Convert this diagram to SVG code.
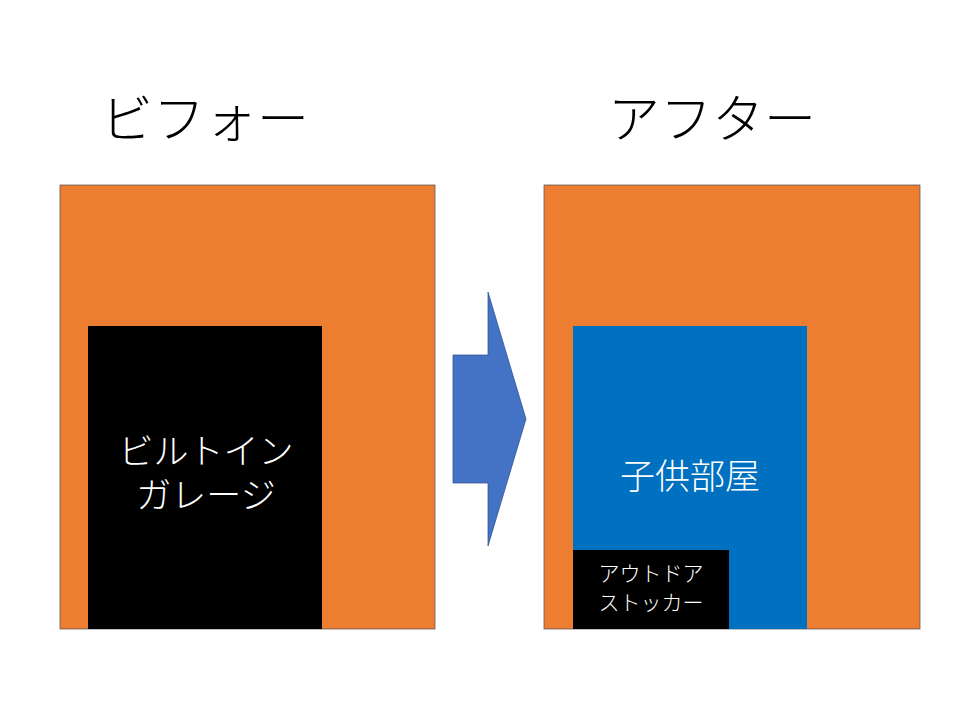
<svg xmlns="http://www.w3.org/2000/svg" width="960" height="720" viewBox="0 0 960 720">
<style>
.t{font-family:"Noto Sans CJK JP","Noto Sans CJK SC",sans-serif;text-anchor:middle;font-weight:300}
.h{font-size:52px;fill:#000}
.w{fill:#fff;font-size:35px}
.s{fill:#fff;font-size:21px}
</style>
<rect width="960" height="720" fill="#fff"/>
<text class="t h" x="205" y="138">ビフォー</text>
<text class="t h" x="712" y="138">アフター</text>
<g id="before">
<rect x="60" y="185" width="375" height="444" fill="#ed7d31" stroke="#555" stroke-width="0.75"/>
<g id="garage"><rect x="88" y="326" width="234" height="303" fill="#000"/>
<text class="t w" x="206" y="464">ビルトイン</text>
<text class="t w" x="206" y="508">ガレージ</text></g>
</g>
<g id="connectors">
<polygon points="453,355 488,355 488,292 526,419 488,546 488,483 453,483" fill="#4472c4" stroke="#2f528f" stroke-width="0.75"/>
</g>
<g id="after">
<rect x="544" y="185" width="376" height="444" fill="#ed7d31" stroke="#555" stroke-width="0.75"/>
<g id="kidsroom"><rect x="573" y="326" width="234" height="303" fill="#0070c0"/>
<text class="t w" x="690" y="489">子供部屋</text></g>
<g id="stocker"><rect x="573" y="550" width="156" height="79" fill="#000"/>
<text class="t s" x="651" y="581">アウトドア</text>
<text class="t s" x="651" y="610">ストッカー</text></g>
</g>
</svg>
